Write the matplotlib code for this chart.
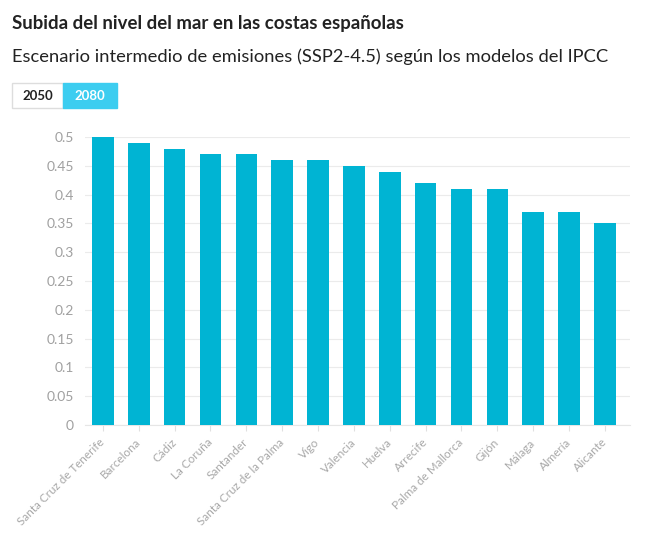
import matplotlib.pyplot as plt
from matplotlib.patches import Rectangle

cities = ["Santa Cruz de Tenerife", "Barcelona", "Cádiz", "La Coruña", "Santander",
          "Santa Cruz de la Palma", "Vigo", "Valencia", "Huelva", "Arrecife",
          "Palma de Mallorca", "Gijón", "Málaga", "Almería", "Alicante"]
rise_2080 = [0.50, 0.49, 0.48, 0.47, 0.47, 0.46, 0.46, 0.45, 0.44, 0.42,
             0.41, 0.41, 0.37, 0.37, 0.35]
yticks = [0, 0.05, 0.1, 0.15, 0.2, 0.25, 0.3, 0.35, 0.4, 0.45, 0.5]
ytick_labels = ["0", "0.05", "0.1", "0.15", "0.2", "0.25", "0.3", "0.35", "0.4", "0.45", "0.5"]

plt.rcParams['font.family'] = ['Lato', 'DejaVu Sans']

W, H = 650, 537
fig = plt.figure(figsize=(W / 100, H / 100), dpi=100)
fig.patch.set_facecolor('white')

ax = fig.add_axes([85 / W, 1 - 425 / H, (630 - 85) / W, (425 - 137) / H])
x = list(range(len(cities)))
ax.bar(x, rise_2080, width=0.6, color='#00b4d3', zorder=3)
ax.set_xlim(-0.5, 14.7)
ax.set_ylim(0, 0.5)
ax.set_yticks(yticks)
ax.set_yticklabels(ytick_labels)
ax.set_xticks(x)
ax.set_xticklabels(cities, rotation=45, ha='right', va='center', rotation_mode='anchor')
ax.grid(axis='y', color='#ebebeb', linewidth=0.8, zorder=0)
for s in ['top', 'right', 'left']:
    ax.spines[s].set_visible(False)
ax.spines['bottom'].set_color('#e6e6e6')
ax.tick_params(axis='y', length=0, labelsize=10, labelcolor='#a0a0a0', pad=8)
ax.tick_params(axis='x', length=4, color='#e0e0e0', labelsize=8.4, labelcolor='#a8a8a8', pad=7)

fig.text(12 / W, 1 - 24 / H, "Subida del nivel del mar en las costas españolas",
         fontsize=13.4, fontweight='bold', color='#222222', va='center')
fig.text(12 / W, 1 - 57 / H, "Escenario intermedio de emisiones (SSP2-4.5) según los modelos del IPCC",
         fontsize=13.2, color='#222222', va='center')

# year buttons
fig.patches.append(Rectangle((12 / W, 1 - 108 / H), 51 / W, 25 / H, transform=fig.transFigure,
                             facecolor='white', edgecolor='#dddddd', linewidth=1))
fig.patches.append(Rectangle((63 / W, 1 - 108 / H), 54 / W, 25 / H, transform=fig.transFigure,
                             facecolor='#3ccdf0', edgecolor='#3ccdf0', linewidth=1))
fig.text(37.5 / W, 1 - 96 / H, "2050", fontsize=9.5, fontweight='bold', color='#222222',
         ha='center', va='center')
fig.text(90 / W, 1 - 96 / H, "2080", fontsize=9.5, fontweight='bold', color='white',
         ha='center', va='center')

fig.savefig('out.png', dpi=100)
